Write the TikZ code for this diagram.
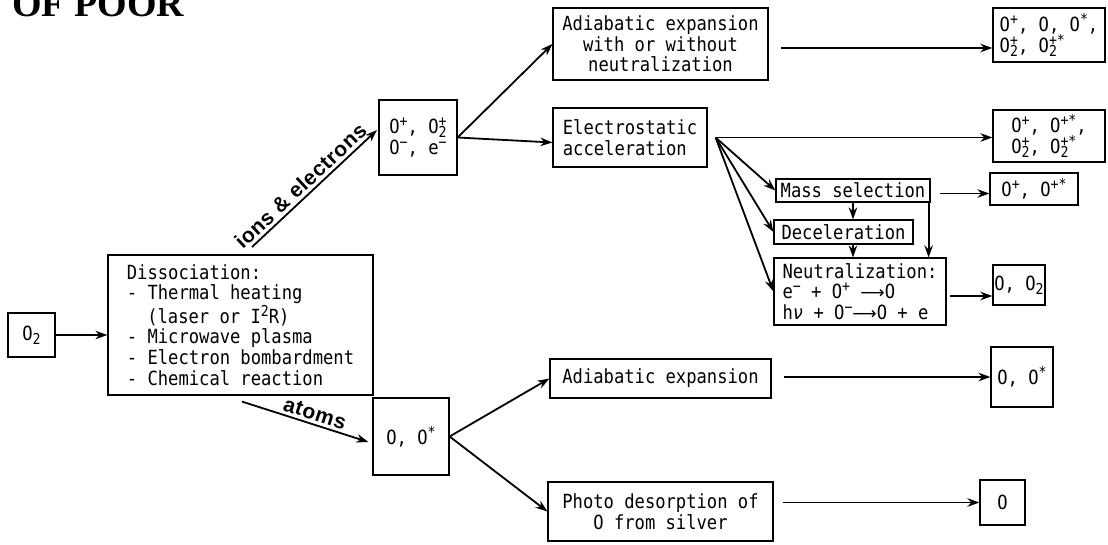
\documentclass[tikz,border=0pt]{standalone}
\usepackage{fontspec}
\setmainfont{DejaVu Sans Mono}[FakeStretch=0.88]
\newfontfamily\labfont{Liberation Sans}[LetterSpace=3]
\newfontfamily\hdrfont{Liberation Serif}
\newfontfamily\arrfont{DejaVu Sans}
\usetikzlibrary{arrows.meta,calc}
\newcommand\supx[1]{\raisebox{7pt}{\fontsize{15}{15}\selectfont #1}}
\newcommand\subx[1]{\raisebox{-4pt}{\fontsize{15}{15}\selectfont #1}}
\newcommand\subsupx[2]{\rlap{\supx{#2}}\subx{#1}}
\newcommand\larr{{\arrfont\fontsize{17}{17}\selectfont ⟶}}
\begin{document}
\begin{tikzpicture}[x=1pt,y=-1pt,
  bx/.style={draw, line width=1.2pt, inner sep=0pt, font=\fontsize{19.5}{20.7}\selectfont},
  arr/.style={line width=1.8pt, -{Stealth[length=12pt,width=8.5pt]}},
  lab/.style={font=\labfont\bfseries\fontsize{21}{21}\selectfont, inner sep=3pt}]
\useasboundingbox (0,0) rectangle (1108,545);
\begin{scope}
\clip (0,0) rectangle (187,545);
\node[anchor=base west, inner sep=0pt, font=\hdrfont\bfseries\fontsize{38}{38}\selectfont] (hdr) at (12,17) {OF POOR};
\end{scope}
% boxes
\node[bx, minimum width=47pt, minimum height=44pt] (o2) at (31.5,335) {O\subx{2}};
\node[bx, minimum width=265pt, minimum height=140pt, align=left] (diss) at (240.5,325)
  {Dissociation:\\- Thermal heating\\\hspace*{20.46pt}(laser or I\supx{2}R)\\- Microwave plasma\\- Electron bombardment\\- Chemical reaction};
\node[bx, minimum width=78pt, minimum height=75pt, align=left] (ions) at (418,137.5)
  {O\supx{+}, O\subsupx{2}{+}\\O\supx{−}, e\supx{−}};
\node[bx, minimum width=215pt, minimum height=72pt, align=center] (adi1) at (660.5,44)
  {Adiabatic expansion\\with or without\\neutralization};
\node[bx, minimum width=154pt, minimum height=59pt, align=left] (elec) at (630,137.5)
  {Electrostatic\\acceleration};
\node[bx, minimum width=112pt, minimum height=54pt, align=left] (r1) at (1049,35)
  {O\supx{+}, O, O\supx{*},\\O\subsupx{2}{+}, O\subsupx{2}{+*}};
\node[bx, minimum width=112pt, minimum height=52pt, align=left] (r2) at (1049,136)
  {O\supx{+}, O\supx{+*},\\O\subsupx{2}{+}, O\subsupx{2}{+*}};
\node[bx, minimum width=154pt, minimum height=23pt] (mass) at (853,190.5) {Mass selection};
\node[bx, minimum width=88pt, minimum height=32pt] (r3) at (1034,189) {O\supx{+}, O\supx{+*}};
\node[bx, minimum width=139pt, minimum height=24pt] (decel) at (843.5,232) {Deceleration};
\node[bx, minimum width=172pt, minimum height=67pt, align=left] (neut) at (860,291.5)
  {Neutralization:\\e\supx{−} + O\supx{+} \larr O\\h\textit{ν} + O\supx{−}\larr O + e};
\node[bx, minimum width=52pt, minimum height=40pt] (r4) at (1019,285) {O, O\subx{2}};
\node[bx, minimum width=76pt, minimum height=77pt] (atoms) at (411,436.5) {O, O\supx{*}};
\node[bx, minimum width=221pt, minimum height=39pt] (adi2) at (660.5,378.5) {Adiabatic expansion};
\node[bx, minimum width=225pt, minimum height=59pt, align=center] (photo) at (660.5,511.5)
  {Photo desorption of\\O from silver};
\node[bx, minimum width=62pt, minimum height=60pt] (r5) at (1022,377) {O, O\supx{*}};
\node[bx, minimum width=45pt, minimum height=45pt] (r6) at (1002.5,502.5) {O};
% connectors
\draw[arr] (o2.east) -- (o2.east -| diss.west);
\coordinate (ionsS) at (252,247);
\coordinate (ionsE) at (377,130);
\draw[arr] (ionsS) -- node[lab, sloped, above, pos=0.45]{ions \& electrons} (ionsE);
\draw[arr] (ions.east) -- (adi1.west);
\path (elec.west) ++(0,5) coordinate (e1);
\draw[arr] (ions.east) -- (e1);
\path (adi1.east) ++(12,4) coordinate (a1);
\draw[arr] (a1) -- (a1 -| r1.west);
\path (elec.east) ++(8,0) coordinate (fan);
\draw[arr] (fan) -- (fan -| r2.west);
\draw[arr] (fan) -- (mass.west);
\draw[arr] (fan) -- (decel.west);
\draw[arr] (fan) -- (neut.west);
\path (mass.east) ++(9,3) coordinate (m1);
\draw[arr] (m1) -- (m1 -| r3.west);
\draw[arr] (mass.south) -- (mass.south |- decel.north);
\path (decel.south -| mass.south) coordinate (d1);
\draw[arr] (d1) -- (d1 |- neut.north);
\path (mass.south east) ++(-2,0) coordinate (m2);
\draw[arr] (m2) -- (m2 |- neut.north);
\path (neut.east) ++(3,4.5) coordinate (n1);
\draw[arr] (n1) -- (n1 -| r4.west);
\path (diss.south) ++(1.5,6) coordinate (atS);
\path (atoms.west) ++(-4,5.5) coordinate (atE);
\draw[arr] (atS) -- node[lab, sloped, above, pos=0.55]{atoms} (atE);
\draw[arr] (atoms.east) -- (adi2.west);
\draw[arr] (atoms.east) -- (photo.west);
\path (r5.west -| adi2.east) ++(12,0) coordinate (a5);
\draw[arr] (a5) -- (r5.west);
\path (r6.west -| photo.east) ++(9,0) coordinate (p6);
\draw[arr] (p6) -- (r6.west);
\end{tikzpicture}
\end{document}
